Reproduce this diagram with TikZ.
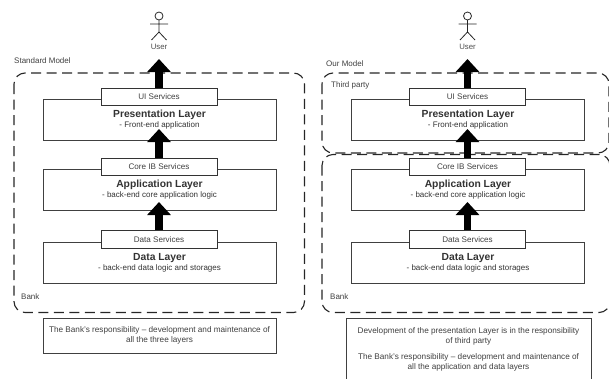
\documentclass[tikz,border=0pt]{standalone}
\usepackage{fontspec}
\setmainfont{Liberation Sans}
\usetikzlibrary{arrows.meta}
\tikzset{
  layerbox/.style={draw=black!75,line width=0.8pt,fill=white,minimum width=233pt,minimum height=41pt,inner sep=0pt,align=center,font=\fontsize{8}{10}\selectfont,text=black!80},
  svcbox/.style={draw=black!80,line width=0.8pt,fill=white,minimum width=116pt,minimum height=17.5pt,inner sep=0pt,font=\fontsize{8.1}{9}\selectfont,text=black!75},
  notebox/.style={draw=black!75,line width=0.8pt,fill=white,inner sep=0pt,align=center,font=\fontsize{8.2}{10.2}\selectfont,text=black!75},
  zone/.style={draw=black!85,line width=1.1pt,dash pattern=on 10pt off 5.5pt,rounded corners=11pt},
  caption/.style={anchor=west,inner sep=0pt,font=\fontsize{8}{9}\selectfont,text=black!75},
  userlabel/.style={inner sep=0pt,font=\fontsize{7.8}{9}\selectfont,text=black!70},
  bigarrow/.style={line width=7.5pt,black,-{Triangle[width=23pt,length=13pt]}},
  stick/.style={draw=black!85,line width=0.8pt}
}
\newcommand{\layertitle}[1]{{\fontsize{10.3}{12}\selectfont\bfseries #1}}
\newcommand{\stackpanel}{%
  \node[layerbox] (pres) at (159.5,119.5) {\layertitle{Presentation Layer}\\- Front-end application};
  \node[layerbox] (app) at (159.5,190) {\layertitle{Application Layer}\\- back-end core application logic};
  \node[layerbox] (data) at (159.5,262.5) {\layertitle{Data Layer}\\- back-end data logic and storages};
  \node[svcbox] (ui) at (159,97) {UI Services};
  \node[svcbox] (core) at (159,167) {Core IB Services};
  \node[svcbox] (dsv) at (159,239.5) {Data Services};
  \coordinate (tipa) at (159,59);
  \coordinate (tipb) at (159,129);
  \coordinate (tipc) at (159,202);
  \draw[bigarrow] (ui.north) -- (tipa);
  \draw[bigarrow] (core.north) -- (tipb);
  \draw[bigarrow] (dsv.north) -- (tipc);
  \node[userlabel] (ulabel) at (159,47) {User};
  \coordinate (head) at (159,16);
  \coordinate (hip) at (159,32);
  \coordinate (lleg) at (151.5,40);
  \coordinate (rleg) at (166.5,40);
  \coordinate (larm) at (150,24);
  \coordinate (rarm) at (168,24);
  \draw[stick] (head) circle (4pt);
  \draw[stick] (159,20) -- (hip) (larm) -- (rarm) (lleg) -- (hip) -- (rleg);
}
\begin{document}
\begin{tikzpicture}[x=1pt,y=-1pt]
\useasboundingbox (0,0) rectangle (609,378);
\clip (0,0) rectangle (609,378);
\begin{scope}[name prefix=L-]
  \draw[zone] (14,73) rectangle (304.5,312.5);
  \stackpanel
  \node[caption] (model) at (14,61) {Standard Model};
  \node[caption] (bank) at (21,297) {Bank};
  \node[notebox,minimum width=233pt,minimum height=35pt] (note) at (159.5,335.5) {The Bank's responsibility – development and maintenance of\\all the three layers};
\end{scope}
\begin{scope}[name prefix=R-]
  \draw[zone] (322,73) rectangle (609,153);
  \draw[zone] (322,154.5) rectangle (610,312.5);
  \begin{scope}[xshift=308.5pt]
    \stackpanel
  \end{scope}
  \node[caption] (model) at (326,64) {Our Model};
  \node[caption] (third) at (331,85) {Third party};
  \node[caption] (bank) at (330,297) {Bank};
  \node[notebox,anchor=north,minimum width=245pt,minimum height=62pt] (note) at (468.5,318) {Development of the presentation Layer is in the responsibility\\of third party\\[6pt]The Bank's responsibility – development and maintenance of\\all the application and data layers};
\end{scope}
\end{tikzpicture}
\end{document}
